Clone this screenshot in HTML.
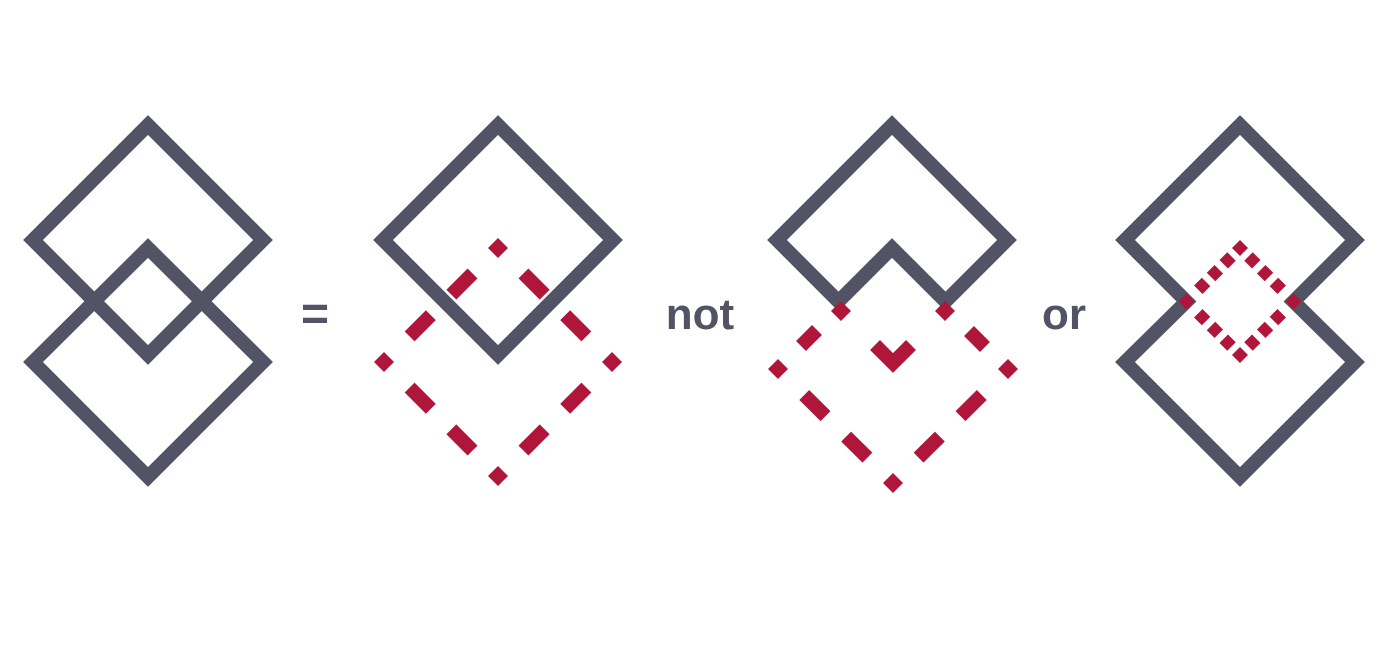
<!DOCTYPE html>
<html><head><meta charset="utf-8"><style>
html,body{margin:0;padding:0;background:#fff;width:1400px;height:649px;overflow:hidden}
text{font-family:"Liberation Sans","DejaVu Sans",sans-serif;font-weight:bold;fill:#525466}
</style></head><body>
<svg width="1400" height="649" viewBox="0 0 1400 649">
<g fill="none" stroke="#525466" stroke-width="14" stroke-linejoin="miter">
  <path d="M148,125 L263,240 L148,355 L33,240 Z"/>
  <path d="M148,248 L263,362 L148,477 L33,362 Z"/>
  <path d="M498,125 L613,240 L498,355 L383,240 Z"/>
  <path d="M838.5,301.5 L777,240 L892,125 L1007,240 L945.5,301.5 L892,248 Z"/>
  <path d="M1240,125 L1355,240 L1293.5,301.5 L1355,362 L1240,477 L1125,362 L1186.5,301.5 L1125,240 Z"/>
</g>
<g fill="none" stroke="#b0163a" stroke-width="14" stroke-dasharray="0 36 30 29 30 300">
  <line x1="498" y1="248" x2="384" y2="362"/>
  <line x1="498" y1="248" x2="612" y2="362"/>
  <line x1="498" y1="476" x2="384" y2="362"/>
  <line x1="498" y1="476" x2="612" y2="362"/>
</g>
<g fill="#b0163a">
  <polygon points="498,238 508,248 498,258 488,248"/>
  <polygon points="384,352 394,362 384,372 374,362"/>
  <polygon points="612,352 622,362 612,372 602,362"/>
  <polygon points="498,466 508,476 498,486 488,476"/>
</g>
<g fill="none" stroke="#b0163a" stroke-width="14">
  <g stroke-dasharray="0 36 30 29 30 300">
    <line x1="893" y1="483" x2="778" y2="369"/>
    <line x1="893" y1="483" x2="1008" y2="369"/>
  </g>
  <line x1="801" y1="346" x2="817" y2="330"/>
  <line x1="969" y1="331" x2="985" y2="347"/>
  <path d="M875,345 L893,363 L911,345" stroke-linejoin="miter"/>
</g>
<g fill="#b0163a">
  <polygon points="778,359 788,369 778,379 768,369"/>
  <polygon points="1008,359 1018,369 1008,379 998,369"/>
  <polygon points="893,473 903,483 893,493 883,483"/>
  <polygon points="841,301 851,311 841,321 831,311"/>
  <polygon points="945,301 955,311 945,321 935,311"/>
</g>
<g fill="none" stroke="#b0163a" stroke-width="12" stroke-dasharray="0 12 11 7 11 7 11 200">
  <line x1="1240" y1="248" x2="1293.5" y2="301.5"/>
  <line x1="1240" y1="248" x2="1186.5" y2="301.5"/>
  <line x1="1240" y1="355" x2="1293.5" y2="301.5"/>
  <line x1="1240" y1="355" x2="1186.5" y2="301.5"/>
</g>
<g fill="#b0163a">
  <polygon points="1240,240 1248,248 1240,256 1232,248"/>
  <polygon points="1240,347 1248,355 1240,363 1232,355"/>
  <polygon points="1186.5,293.5 1194.5,301.5 1186.5,309.5 1178.5,301.5"/>
  <polygon points="1293.5,293.5 1301.5,301.5 1293.5,309.5 1285.5,301.5"/>
</g>
<text x="315" y="330" font-size="48" text-anchor="middle">=</text>
<text x="700" y="329" font-size="44" text-anchor="middle">not</text>
<text x="1064" y="329" font-size="44" text-anchor="middle">or</text>
</svg>
</body></html>
